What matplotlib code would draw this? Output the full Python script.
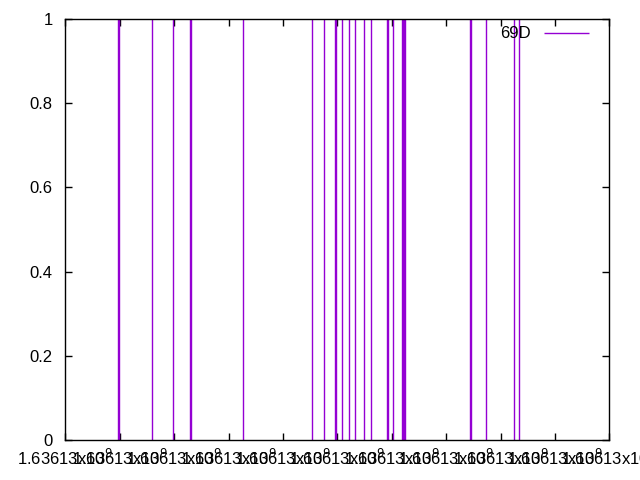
import matplotlib
matplotlib.use("Agg")
import matplotlib.pyplot as plt
from matplotlib.ticker import FixedLocator, FuncFormatter

plt.rcParams['font.family'] = ['Liberation Sans', 'DejaVu Sans']

base = 1636130000
offsets = [194.5, 198.2, 319.9, 397.1, 459.2, 462.9, 654.4, 905.9, 952.2,
           992.2, 995.9, 1018.4, 1044.1, 1066.2, 1099.3, 1125.0, 1183.4,
           1187.1, 1205.9, 1238.5, 1242.2, 1245.9, 1249.6, 1488.5, 1492.2,
           1547.8, 1650.7, 1669.1]
values = [1] * len(offsets)
series_name = "69D"
x_ticks = [base + 200 * i for i in range(11)]
y_ticks = [0, 0.2, 0.4, 0.6, 0.8, 1]
y_labels = ["0", "0.2", "0.4", "0.6", "0.8", "1"]

xs = [base + o for o in offsets]

fig = plt.figure(figsize=(6.4, 4.8), dpi=100)
ax = fig.add_axes([65.3 / 640, 40 / 480, (609.3 - 65.3) / 640, (440 - 19) / 480])
color = '#9400D3'
ax.vlines(xs, 0, values, colors=color, linewidth=1.0, label=series_name)
ax.set_xlim(x_ticks[0], x_ticks[-1])
ax.set_ylim(0, 1)
ax.xaxis.set_major_locator(FixedLocator(x_ticks))
ax.xaxis.set_major_formatter(FuncFormatter(lambda v, p: "1.63613x10$^{9}$"))
ax.set_yticks(y_ticks)
ax.set_yticklabels(y_labels)
ax.tick_params(direction='in', top=True, right=True, length=5, width=1,
               labelsize=12, colors='black')
ax.tick_params(axis='x', pad=6)
ax.tick_params(axis='y', pad=9)
for s in ax.spines.values():
    s.set_linewidth(1.0)
leg = ax.legend(loc='upper right', bbox_to_anchor=(1 - 13 / 544, 1.0),
                frameon=False, fontsize=12, borderpad=0.45,
                handlelength=2.7, handletextpad=0.8, borderaxespad=0.0,
                markerfirst=False)
fig.savefig("out.png", dpi=100)
